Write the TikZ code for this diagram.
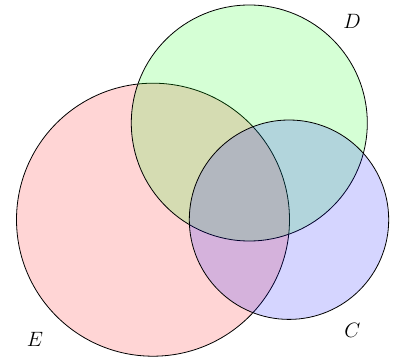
\documentclass[tikz,border=0pt]{standalone}
\usepackage{tikz}
\usetikzlibrary{positioning}

\begin{document}
\begin{tikzpicture}[
    x=1pt, y=-1pt,
    set/.style={circle, draw, line width=0.8pt, inner sep=0pt, fill opacity=0.165},
    setlabel/.style={font=\fontsize{20}{24}\selectfont}
  ]
    \useasboundingbox (0,0) rectangle (393,358);
    \node[set, fill=red, minimum size=273pt] (E) at (153,219.7) {};
    \node[set, fill=green, minimum size=236pt] (D) at (249.3,123) {};
    \node[set, fill=blue, minimum size=199.4pt] (C) at (289,219.7) {};
    \node[setlabel] (labD) at (352,21) {$D$};
    \node[setlabel] (labC) at (352.5,330) {$C$};
    \node[setlabel] (labE) at (35,339) {$E$};
  \end{tikzpicture}
\end{document}
